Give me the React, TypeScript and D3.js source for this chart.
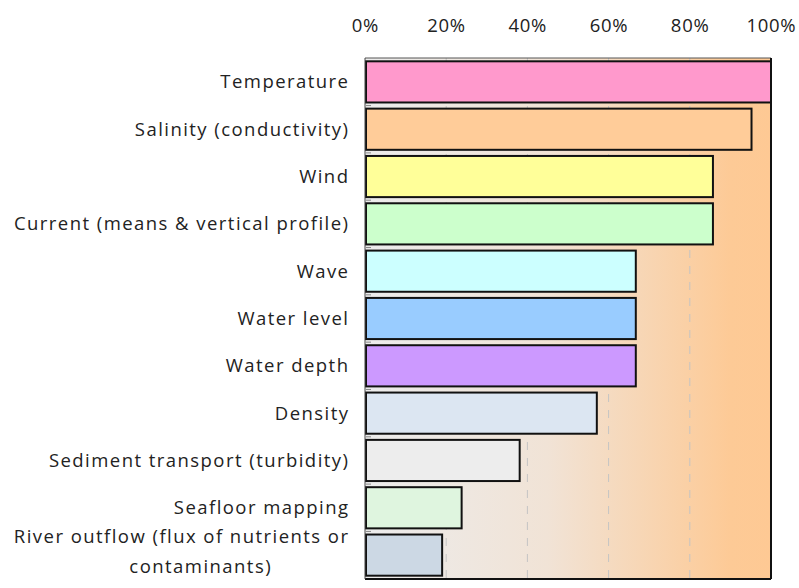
import React from "react";
import * as d3 from "d3";

const categories = [
  "Temperature",
  "Salinity (conductivity)",
  "Wind",
  "Current (means & vertical profile)",
  "Wave",
  "Water level",
  "Water depth",
  "Density",
  "Sediment transport (turbidity)",
  "Seafloor mapping",
  "River outflow (flux of nutrients or contaminants)",
];
const labelLines = [
  ["Temperature"],
  ["Salinity (conductivity)"],
  ["Wind"],
  ["Current (means & vertical profile)"],
  ["Wave"],
  ["Water level"],
  ["Water depth"],
  ["Density"],
  ["Sediment transport (turbidity)"],
  ["Seafloor mapping"],
  ["River outflow (flux of nutrients or", "contaminants)"],
];
const values = [1.0, 0.952, 0.857, 0.857, 0.667, 0.667, 0.667, 0.571, 0.381, 0.238, 0.19];
const colors = [
  "#ff99cc",
  "#ffcc99",
  "#ffff99",
  "#ccffcc",
  "#ccffff",
  "#99ccff",
  "#cc99ff",
  "#dce6f2",
  "#ededed",
  "#dff5df",
  "#ccd8e4",
];
const tickValues = [0, 0.2, 0.4, 0.6, 0.8, 1.0];

const W = 799;
const H = 588;
const left = 365;
const right = 771;
const top = 58;
const bottom = 579;
const FONT = "'Open Sans', sans-serif";
const FS = 18.5;
const LS = 1.45;

export default function App() {
  const x = d3.scaleLinear().domain([0, 1]).range([left, right]);
  const y = d3
    .scaleBand<string>()
    .domain(categories)
    .range([top, bottom])
    .paddingInner(0.13)
    .paddingOuter(0.07);
  const step = y.step();
  const fmt = d3.format(".0%");
  return (
    <svg
      width={W}
      height={H}
      style={{ position: "absolute", left: 0, top: 0, background: "#fff" }}
    >
      <defs>
        <linearGradient id="bg" x1="0" y1="0" x2="1" y2="0">
          <stop offset="0" stopColor="#ececec" />
          <stop offset="0.45" stopColor="#f1e3d6" />
          <stop offset="0.9" stopColor="#fdca96" />
          <stop offset="1" stopColor="#fec994" />
        </linearGradient>
      </defs>
      <rect x={left} y={top} width={right - left} height={bottom - top} fill="url(#bg)" />
      {tickValues.slice(1, -1).map((t) => (
        <line
          key={t}
          x1={x(t)}
          x2={x(t)}
          y1={top}
          y2={bottom}
          stroke="#c4c4c4"
          strokeWidth={1}
          strokeDasharray="8,8"
        />
      ))}
      {categories.map((c, i) =>
        i > 0 ? (
          <line
            key={"m" + c}
            x1={left + 1}
            x2={left + 6}
            y1={(y(c) as number) - (step - y.bandwidth()) / 2}
            y2={(y(c) as number) - (step - y.bandwidth()) / 2}
            stroke="#888"
            strokeWidth={1}
          />
        ) : null
      )}
      {categories.map((c, i) => (
        <rect
          key={c}
          x={x(0) + 1}
          y={y(c) as number}
          width={x(values[i]) - x(0) - 1}
          height={y.bandwidth()}
          fill={colors[i]}
          stroke="#111"
          strokeWidth={2}
        />
      ))}
      <line x1={left} x2={right} y1={top} y2={top} stroke="#555" strokeWidth={1} />
      <line x1={right} x2={right} y1={top} y2={bottom} stroke="#111" strokeWidth={2} />
      <line x1={left} x2={right} y1={bottom} y2={bottom} stroke="#111" strokeWidth={2} />
      <line x1={left} x2={left} y1={top} y2={bottom} stroke="#444" strokeWidth={1} />
      {tickValues.map((t) => (
        <text
          key={"t" + t}
          x={x(t) + 0.35}
          y={32}
          textAnchor="middle"
          fontFamily={FONT}
          fontSize={FS}
          letterSpacing={0.7}
          fill="#222"
        >
          {fmt(t)}
        </text>
      ))}
      {categories.map((c, i) => {
        const lines = labelLines[i];
        const cy = (y(c) as number) + y.bandwidth() / 2;
        const lh = 30;
        const y0 = cy - ((lines.length - 1) * lh) / 2 - (lines.length > 1 ? 4 : 0);
        return lines.map((ln, j) => (
          <text
            key={c + j}
            x={lines.length > 1 && j > 0 ? 200 + LS / 2 : 348 + LS}
            y={y0 + j * lh}
            dy="0.35em"
            textAnchor={lines.length > 1 && j > 0 ? "middle" : "end"}
            fontFamily={FONT}
            fontSize={FS}
            letterSpacing={LS}
            fill="#222"
          >
            {ln}
          </text>
        ));
      })}
    </svg>
  );
}
